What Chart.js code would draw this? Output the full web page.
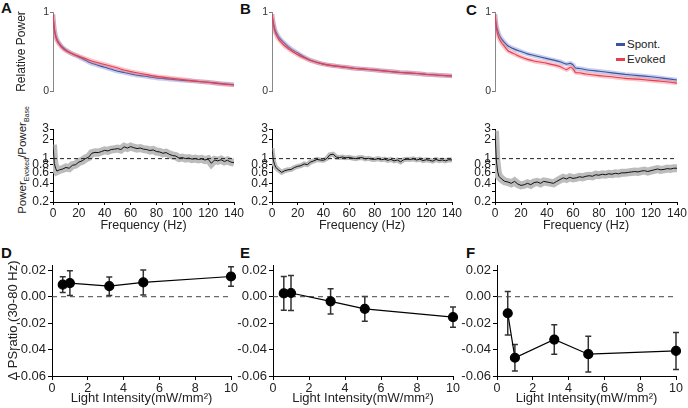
<!DOCTYPE html>
<html lang="en">
<head>
<meta charset="UTF-8">
<title>Spectral power and PSratio vs light intensity</title>
<script src="https://cdn.jsdelivr.net/npm/chart.js"></script>
<style>
  html, body { margin: 0; padding: 0; background: #fff; }
  body { font-family: Arial, "Liberation Sans", sans-serif; color: #222; }
  #fig { position: relative; width: 688px; height: 408px; overflow: hidden; }
  #fig canvas { position: absolute; }
  .lbl { position: absolute; font-weight: bold; font-size: 15px; line-height: 15px; color: #111; }
  .ytitle { position: absolute; font-size: 11.5px; white-space: nowrap; transform: translate(-50%, -50%) rotate(-90deg); }
  .ytitle sub { font-size: 7px; }
  .legend { position: absolute; font-size: 11.5px; line-height: 15px; }
  .legend .sw { display: inline-block; width: 9px; height: 3px; vertical-align: middle; margin-right: 2px; }
</style>
</head>
<body>
<div id="fig">
  <div class="lbl" style="left:1px;top:0px">A</div>
  <div class="lbl" style="left:240px;top:1px">B</div>
  <div class="lbl" style="left:466px;top:2px">C</div>
  <div class="lbl" style="left:1px;top:245px">D</div>
  <div class="lbl" style="left:240px;top:245px">E</div>
  <div class="lbl" style="left:466px;top:245px">F</div>
  <div class="ytitle" style="left:23px;top:160px">Power<sub>Evoked</sub>/Power<sub>Base</sub></div>
  <div class="legend" style="left:616px;top:37px">
    <div><span class="sw" style="background:#3a54a4"></span>Spont.</div>
    <div><span class="sw" style="background:#e63e4b"></span>Evoked</div>
  </div>
</div>
<script>
  // power spectra (relative power)
  const specFreqs = [0,0.5,1,2,3,5,7,10,15,20,25,30,40,50,55,58,60,62,65,70,80,90,100,110,120,130,140];
  const specA_spont  = [0.97,0.88,0.80,0.71,0.66,0.60,0.56,0.52,0.47,0.43,0.39,0.35,0.30,0.25,0.235,0.225,0.215,0.21,0.20,0.19,0.165,0.15,0.135,0.125,0.11,0.095,0.08];
  const specA_evoked = [0.97,0.87,0.78,0.69,0.64,0.59,0.55,0.51,0.47,0.44,0.41,0.38,0.335,0.29,0.265,0.255,0.245,0.24,0.23,0.215,0.185,0.165,0.145,0.125,0.11,0.09,0.075];
  const specB_spont  = [0.97,0.92,0.87,0.80,0.75,0.69,0.65,0.60,0.53,0.48,0.43,0.39,0.34,0.315,0.305,0.30,0.295,0.29,0.285,0.28,0.265,0.25,0.235,0.225,0.21,0.20,0.19];
  const specB_evoked = [0.97,0.91,0.85,0.77,0.72,0.66,0.62,0.57,0.51,0.46,0.42,0.385,0.34,0.315,0.305,0.30,0.295,0.29,0.285,0.28,0.265,0.25,0.235,0.225,0.21,0.20,0.19];
  const specC_spont  = [0.97,0.90,0.84,0.77,0.72,0.66,0.62,0.57,0.53,0.50,0.47,0.45,0.41,0.37,0.34,0.35,0.33,0.29,0.285,0.27,0.25,0.23,0.21,0.195,0.18,0.16,0.14];
  const specC_evoked = [0.97,0.88,0.80,0.72,0.67,0.61,0.57,0.51,0.47,0.43,0.40,0.38,0.35,0.31,0.27,0.30,0.28,0.235,0.23,0.215,0.195,0.18,0.16,0.15,0.135,0.12,0.10];

  // evoked / base power ratio, middle row
  const ratioFreqs = [0,1,2,3,5,7.5,10,12.5,15,17.5,20,22.5,25,27.5,30,32.5,35,37.5,40,42.5,45,47.5,50,52.5,55,57.5,60,62.5,65,67.5,70,72.5,75,77.5,80,82.5,85,87.5,90,92.5,95,97.5,100,102.5,105,107.5,110,112.5,115,117.5,120,122.5,125,127.5,130,132.5,135,137.5,140];
  const ratioA = [1.67,0.84,0.70,0.63,
    0.66,0.68,0.72,0.70,0.78,0.80,0.88,0.92,1.0,1.05,
    1.22,1.26,1.25,1.30,1.36,1.33,1.40,1.42,1.45,1.40,
    1.55,1.48,1.56,1.50,1.45,1.48,1.42,1.40,1.35,1.38,
    1.30,1.28,1.22,1.25,1.17,1.12,1.10,1.02,1.04,1.0,
    1.02,0.98,1.0,0.97,0.99,0.95,0.98,0.84,0.95,0.92,
    0.96,0.90,0.94,0.88,0.86];
  const ratioB = [1.47,0.95,0.80,0.72,
    0.66,0.60,0.64,0.66,0.67,0.72,0.75,0.77,0.82,0.80,
    0.88,0.92,0.97,0.95,0.94,1.0,1.15,1.18,1.06,1.04,
    1.06,1.03,1.05,1.02,1.0,1.03,1.04,0.99,1.01,0.98,
    0.97,1.0,0.96,0.98,0.94,0.97,0.92,0.95,0.89,0.96,
    0.98,0.97,0.99,0.95,0.98,0.93,0.96,0.94,0.91,0.97,
    0.93,0.95,0.92,0.96,0.95];
  const ratioC = [2.8,0.95,0.62,0.52,
    0.47,0.43,0.42,0.40,0.43,0.39,0.37,0.38,0.40,0.38,
    0.41,0.42,0.40,0.43,0.42,0.41,0.40,0.43,0.46,0.49,
    0.47,0.50,0.48,0.49,0.51,0.50,0.52,0.53,0.52,0.55,
    0.54,0.56,0.55,0.57,0.56,0.58,0.57,0.59,0.59,0.60,
    0.61,0.62,0.61,0.63,0.64,0.62,0.64,0.66,0.68,0.66,
    0.67,0.69,0.68,0.70,0.70];
  const ratioRef = 1;
  const ratioTicks = [0.2,0.3,0.4,0.6,0.8,1,2,3];
  const ratioTickLabels = ['0.2','','0.4','0.6','0.8','1','2','3'];

  // delta PSratio (30-80 Hz) vs light intensity, bottom row
  const intensity = [0.6,1.0,3.2,5.1,10];
  const psD_mean = [0.0091,0.0103,0.0080,0.0108,0.0153];
  const psD_sem  = [0.0060,0.0094,0.0070,0.0095,0.0073];
  const psE_mean = [0.0025,0.0028,-0.0035,-0.0092,-0.0155];
  const psE_sem  = [0.0128,0.0132,0.0096,0.0093,0.0077];
  const psF_mean = [-0.0125,-0.0462,-0.0324,-0.0435,-0.0410];
  const psF_sem  = [0.0165,0.0100,0.0111,0.0135,0.0140];
  const psTicks = [-0.06,-0.04,-0.02,0,0.02];
  const intensityRange = [0,10];

  Chart.defaults.font.family = 'Arial, "Liberation Sans", sans-serif';
  Chart.defaults.color = '#222';

  const pts = (xs, ys) => xs.map((x, i) => ({ x: x, y: ys[i] }));
  const fixY = w => s => { s.width = w; s.paddingTop = 0; s.paddingBottom = 0; };
  const fixX = h => s => { s.height = h; s.paddingLeft = 0; s.paddingRight = 0; };

  // make a canvas so that the plot area lands on the given rectangle
  function place(plot, yw, xh, pad) {
    const c = document.createElement('canvas');
    const left = plot.l - yw, top = plot.t - pad.t;
    c.width = plot.r + pad.r - left;
    c.height = plot.b + xh + pad.b - top;
    c.style.left = left + 'px';
    c.style.top = top + 'px';
    document.getElementById('fig').appendChild(c);
    return c;
  }

  function baseOpts(pad) {
    return {
      responsive: false, animation: false, devicePixelRatio: 1,
      layout: { padding: { left: 0, top: pad.t, right: pad.r, bottom: pad.b } },
      plugins: { legend: { display: false }, tooltip: { enabled: false } }
    };
  }

  const errorBars = {
    id: 'errorBars',
    beforeDatasetsDraw(chart) {
      const ctx = chart.ctx, xs = chart.scales.x, ys = chart.scales.y;
      chart.data.datasets.forEach(ds => {
        if (!ds.errors) return;
        ctx.save();
        ctx.strokeStyle = '#333';
        ctx.lineWidth = 1.5;
        ds.data.forEach((p, i) => {
          const x = xs.getPixelForValue(p.x);
          const y1 = ys.getPixelForValue(p.y + ds.errors[i]);
          const y2 = ys.getPixelForValue(p.y - ds.errors[i]);
          ctx.beginPath();
          ctx.moveTo(x, y1); ctx.lineTo(x, y2);
          ctx.moveTo(x - 3, y1); ctx.lineTo(x + 3, y1);
          ctx.moveTo(x - 3, y2); ctx.lineTo(x + 3, y2);
          ctx.stroke();
        });
        ctx.restore();
      });
    }
  };

  function spectrumChart(plot, yw, spont, evoked, withTitle) {
    const pad = { t: 12, r: 6, b: 6 };
    const cv = place(plot, yw, 0, pad);
    const opts = baseOpts(pad);
    opts.scales = {
      x: { type: 'linear', min: 0, max: 140, display: false },
      y: {
        min: 0, max: 1, afterFit: fixY(yw),
        ticks: { stepSize: 1, font: { size: 10.5 }, color: '#333', padding: 1 },
        grid: { drawOnChartArea: false, tickLength: 3, color: '#777' },
        border: { color: '#888' },
        title: { display: withTitle, text: 'Relative Power', font: { size: 12 }, padding: { top: 14, bottom: 0 } }
      }
    };
    new Chart(cv, {
      type: 'line',
      data: { datasets: [
        { data: pts(specFreqs, evoked), borderColor: '#e63e4b', borderWidth: 1.1, pointRadius: 0, tension: 0.2, order: 1 },
        { data: pts(specFreqs, evoked), borderColor: 'rgba(240,110,125,0.4)', borderWidth: 4.5, pointRadius: 0, tension: 0.2, order: 2 },
        { data: pts(specFreqs, spont), borderColor: '#3a54a4', borderWidth: 1.1, pointRadius: 0, tension: 0.2, order: 3 },
        { data: pts(specFreqs, spont), borderColor: 'rgba(95,115,200,0.35)', borderWidth: 4.5, pointRadius: 0, tension: 0.2, order: 4 }
      ] },
      options: opts
    });
  }

  function ratioChart(plot, yw, ratio, bandW) {
    const pad = { t: 8, r: 10, b: 0 };
    const cv = place(plot, yw, 31, pad);
    const opts = baseOpts(pad);
    const f0 = ratioFreqs[0], f1 = ratioFreqs[ratioFreqs.length - 1];
    opts.scales = {
      x: {
        type: 'linear', min: f0, max: f1, afterFit: fixX(31),
        ticks: { stepSize: 20, font: { size: 12 }, padding: 1, maxRotation: 0 },
        grid: { drawOnChartArea: false, tickLength: 3, color: '#000' },
        border: { color: '#000' },
        title: { display: true, text: 'Frequency (Hz)', font: { size: 12.5 }, padding: 0 }
      },
      y: {
        type: 'logarithmic', min: 0.2, max: 3, afterFit: fixY(yw),
        afterBuildTicks: s => { s.ticks = ratioTicks.map(v => ({ value: v })); },
        ticks: { autoSkip: false, callback: (v, i) => ratioTickLabels[i], font: { size: 12 }, padding: 1 },
        grid: { drawOnChartArea: false, tickLength: 3, color: '#000' },
        border: { color: '#000' }
      }
    };
    new Chart(cv, {
      type: 'line',
      data: { datasets: [
        { data: pts(ratioFreqs, ratio), borderColor: '#111', borderWidth: 1, pointRadius: 0, order: 1 },
        { data: [{ x: f0, y: ratioRef }, { x: f1, y: ratioRef }], borderColor: '#222', borderWidth: 1, borderDash: [4, 3], pointRadius: 0, order: 2 },
        { data: pts(ratioFreqs, ratio), borderColor: '#bcbcbc', borderWidth: bandW, pointRadius: 0, order: 3 }
      ] },
      options: opts
    });
  }

  function psChart(plot, yw, mean, sem, withTitle) {
    const pad = { t: 8, r: 10, b: 0 };
    const cv = place(plot, yw, 32, pad);
    const opts = baseOpts(pad);
    opts.scales = {
      x: {
        type: 'linear', min: intensityRange[0], max: intensityRange[1], afterFit: fixX(32),
        ticks: { stepSize: 2, font: { size: 12.5 }, padding: 1, maxRotation: 0 },
        grid: { drawOnChartArea: false, tickLength: 4, color: '#000' },
        border: { color: '#000' },
        title: { display: true, text: 'Light Intensity(mW/mm²)', font: { size: 13 }, padding: { top: 0, bottom: 2 } }
      },
      y: {
        min: -0.06, max: 0.024, afterFit: fixY(yw),
        afterBuildTicks: s => { s.ticks = psTicks.map(v => ({ value: v })); },
        ticks: { autoSkip: false, callback: v => v.toFixed(2), font: { size: 13 }, padding: 2 },
        grid: { drawOnChartArea: false, tickLength: 4, color: '#000' },
        border: { color: '#000' },
        title: { display: withTitle, text: 'Δ PSratio (30-80 Hz)', font: { size: 13 }, padding: { top: 6, bottom: 0 } }
      }
    };
    new Chart(cv, {
      type: 'line',
      data: { datasets: [
        { data: pts(intensity, mean), errors: sem, borderColor: '#000', borderWidth: 1.2, pointRadius: 4.5,
          pointBackgroundColor: '#000', pointBorderColor: '#000', clip: false, order: 1 },
        { data: [{ x: intensityRange[0], y: 0 }, { x: intensityRange[1], y: 0 }], borderColor: '#444', borderWidth: 1,
          borderDash: [5, 4], pointRadius: 0, order: 2 }
      ] },
      options: opts,
      plugins: [errorBars]
    });
  }

  spectrumChart({ l: 53, t: 12, r: 234, b: 91 }, 53, specA_spont, specA_evoked, true);
  spectrumChart({ l: 272, t: 12, r: 452, b: 91 }, 30, specB_spont, specB_evoked, false);
  spectrumChart({ l: 495, t: 12, r: 677, b: 91 }, 30, specC_spont, specC_evoked, false);

  ratioChart({ l: 53, t: 129, r: 234, b: 202 }, 30, ratioA, 8);
  ratioChart({ l: 272, t: 129, r: 452, b: 202 }, 30, ratioB, 5);
  ratioChart({ l: 495, t: 129, r: 677, b: 202 }, 30, ratioC, 8);

  psChart({ l: 52, t: 265, r: 231, b: 376 }, 52, psD_mean, psD_sem, true);
  psChart({ l: 273, t: 265, r: 453, b: 376 }, 40, psE_mean, psE_sem, false);
  psChart({ l: 497, t: 265, r: 676, b: 376 }, 40, psF_mean, psF_sem, false);
</script>
</body>
</html>
